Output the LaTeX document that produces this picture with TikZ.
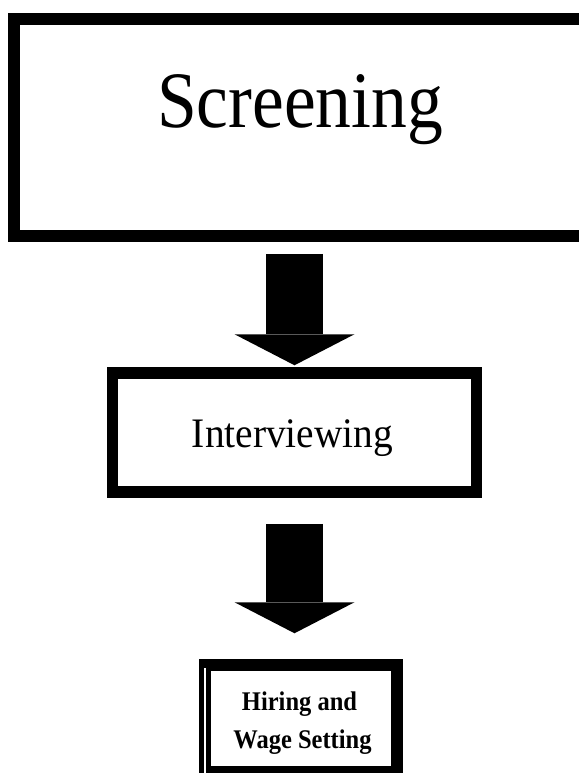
\documentclass[tikz,border=0pt]{standalone}
\usepackage{fontspec}
\setmainfont{Liberation Serif}
\usetikzlibrary{arrows.meta,calc}
\tikzset{
  stagebox/.style={draw=black, fill=white, line width=11.5pt, inner sep=0pt},
  blockarrow/.style={draw=black, line width=57pt,
    -{Triangle[width=120pt,length=31pt,line width=0pt]}},
  hiretext/.style={anchor=base, inner sep=0pt, font=\fontsize{24.5}{24.5}\selectfont\bfseries},
}
\begin{document}
\begin{tikzpicture}[x=1pt,y=-1pt]
\useasboundingbox[fill=white] (0,0) rectangle (578,773);
% boxes
\node[stagebox, minimum width=576pt, minimum height=217pt] (screen) at (302,127.5) {};
\node[stagebox, minimum width=364pt, minimum height=119pt] (interv) at (294.5,432.5) {};
\node[stagebox, minimum width=192pt, minimum height=107pt] (hiring) at (301,718.5) {};
% texts
\node[anchor=base, inner sep=0pt, font=\fontsize{80}{80}\selectfont] (screentext) at (300,128) {\scalebox{0.894}[1]{Screening}};
\node[anchor=base, inner sep=0pt, font=\fontsize{42}{42}\selectfont] (intervtext) at (292.5,447) {\scalebox{0.937}[1]{Interviewing}};
\node[hiretext] (hiretextA) at (299.5,710) {\scalebox{1}[1.1]{Hiring and}};
\node[hiretext] (hiretextB) at (302.5,748) {\scalebox{1}[1.1]{Wage Setting}};
% thin white streak inside the left border of the last box
\draw[white, line width=1.2pt] ($(hiring.north west)+(5.75,9)$) -- ($(hiring.south west)+(5.75,0)$);
% block arrows
\draw[blockarrow, shorten <=12pt, shorten >=2pt] (interv.north |- screen.south) -- (interv.north);
\draw[blockarrow, shorten <=26pt, shorten >=26pt] (interv.south) -- (interv.south |- hiring.north);
\end{tikzpicture}
\end{document}
